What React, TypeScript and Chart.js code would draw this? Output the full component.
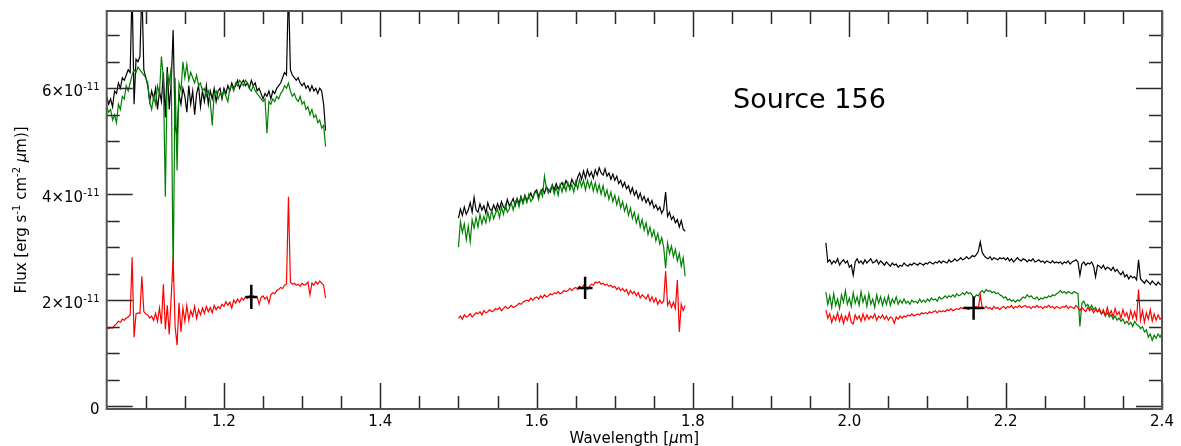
import React, { useEffect, useRef } from "react";
import { Chart, registerables } from "chart.js";

Chart.register(...registerables);

const W = 1181;
const H = 446;
const FONT = '"DejaVu Sans", "Noto Sans", sans-serif';

// Flux values are in units of 1e-11 erg s^-1 cm^-2 um^-1

// ---------- J band segment ----------
const wavelengthJ = [
  1.0500, 1.0525, 1.0550, 1.0575, 1.0600, 1.0625, 1.0650, 1.0675, 1.0700, 1.0725,
  1.0750, 1.0775, 1.0800, 1.0825, 1.0850, 1.0875, 1.0900, 1.0925, 1.0950, 1.0975,
  1.1000, 1.1025, 1.1050, 1.1075, 1.1100, 1.1125, 1.1150, 1.1175, 1.1200, 1.1225,
  1.1250, 1.1275, 1.1300, 1.1325, 1.1350, 1.1375, 1.1400, 1.1425, 1.1450, 1.1475,
  1.1500, 1.1525, 1.1550, 1.1575, 1.1600, 1.1625, 1.1650, 1.1675, 1.1700, 1.1725,
  1.1750, 1.1775, 1.1800, 1.1825, 1.1850, 1.1875, 1.1900, 1.1925, 1.1950, 1.1975,
  1.2000, 1.2025, 1.2050, 1.2075, 1.2100, 1.2125, 1.2150, 1.2175, 1.2200, 1.2225,
  1.2250, 1.2275, 1.2300, 1.2325, 1.2350, 1.2375, 1.2400, 1.2425, 1.2450, 1.2475,
  1.2500, 1.2525, 1.2550, 1.2575, 1.2600, 1.2625, 1.2650, 1.2675, 1.2700, 1.2725,
  1.2750, 1.2775, 1.2800, 1.2825, 1.2850, 1.2875, 1.2900, 1.2925, 1.2950, 1.2975,
  1.3000, 1.3025, 1.3050, 1.3075, 1.3100, 1.3125, 1.3150, 1.3175, 1.3200, 1.3225,
  1.3250, 1.3275, 1.3300,
];
const fluxBlackJ = [
  5.85, 5.70, 5.80, 5.65, 5.95, 5.90, 6.10, 6.00, 6.20, 6.15,
  6.25, 6.35, 6.30, 7.90, 5.70, 6.55, 6.50, 6.60, 7.90, 6.35,
  6.20, 6.05, 5.75, 5.95, 5.80, 6.00, 5.60, 5.95, 5.75, 6.30,
  5.45, 6.40, 5.60, 6.10, 7.10, 5.30, 5.10, 5.90, 5.70, 6.00,
  5.85, 5.55, 6.05, 5.70, 5.95, 5.50, 5.90, 6.05, 5.65, 5.95,
  5.75, 6.05, 5.70, 5.95, 5.80, 6.00, 5.75, 5.95, 6.00, 5.80,
  6.00, 5.90, 6.05, 5.95, 6.10, 6.00, 6.05, 6.15, 6.00, 6.10,
  6.15, 6.05, 6.10, 6.00, 6.15, 6.05, 6.10, 5.95, 6.00, 5.90,
  5.80, 5.90, 5.85, 5.95, 5.80, 5.95, 5.90, 6.00, 6.05, 6.10,
  6.20, 6.30, 6.25, 7.90, 6.35, 6.25, 6.20, 6.15, 6.20, 6.10,
  6.05, 6.10, 6.00, 6.05, 5.95, 6.05, 5.95, 6.00, 5.90, 6.00,
  5.95, 5.70, 5.20,
];
const fluxGreenJ = [
  5.65, 5.55, 5.60, 5.40, 5.50, 5.35, 5.70, 5.60, 5.85, 5.80,
  6.05, 5.95, 6.10, 6.25, 6.35, 6.30, 6.40, 6.35, 6.30, 6.25,
  6.20, 6.10, 5.75, 5.60, 5.85, 5.70, 6.05, 5.90, 6.60, 6.20,
  3.95, 6.30, 6.10, 6.40, 2.35, 6.20, 4.45, 6.10, 5.95, 6.50,
  6.20, 6.45, 6.15, 6.30, 6.20, 6.10, 6.25, 6.05, 6.10, 5.95,
  6.00, 5.85, 5.95, 5.75, 5.30, 5.90, 5.95, 5.80, 5.90, 5.85,
  5.95, 5.85, 5.75, 6.00, 6.05, 5.95, 6.10, 6.05, 6.15, 6.10,
  6.05, 6.15, 6.10, 6.00, 5.95, 6.05, 5.95, 5.90, 5.85, 5.80,
  5.75, 5.80, 5.15, 5.75, 5.70, 5.80, 5.75, 5.85, 5.80, 5.90,
  5.95, 6.05, 6.00, 6.10, 5.95, 5.85, 5.90, 5.80, 5.75, 5.85,
  5.70, 5.75, 5.60, 5.65, 5.50, 5.60, 5.45, 5.50, 5.35, 5.40,
  5.25, 5.30, 4.90,
];
const fluxRedJ = [
  1.47, 1.46, 1.48, 1.47, 1.52, 1.55, 1.60, 1.58, 1.64, 1.62,
  1.66, 1.68, 1.72, 2.81, 1.30, 1.74, 1.76, 1.75, 2.45, 1.78,
  1.74, 1.72, 1.66, 1.70, 1.62, 1.75, 1.60, 1.85, 1.55, 2.30,
  1.45, 1.90, 1.35, 2.05, 2.80, 1.50, 1.15, 1.95, 1.40, 1.85,
  1.60, 1.90, 1.62, 1.80, 1.70, 1.88, 1.65, 1.82, 1.72, 1.85,
  1.75, 1.88, 1.78, 1.86, 1.76, 1.90, 1.82, 1.88, 1.84, 1.92,
  1.88, 1.97, 1.90, 1.96, 1.85, 2.00, 1.94, 2.02, 1.96, 2.04,
  2.00, 2.06, 2.03, 2.08, 2.04, 2.08, 2.05, 2.06, 1.92, 2.05,
  2.08, 2.02, 2.06, 1.94, 2.10, 2.14, 2.12, 2.18, 2.20, 2.24,
  2.22, 2.28, 2.30, 3.95, 2.34, 2.30, 2.32, 2.28, 2.30, 2.26,
  2.32, 2.28, 2.30, 2.34, 2.10, 2.32, 2.28, 2.35, 2.30, 2.36,
  2.32, 2.28, 2.04,
];

// ---------- H band segment ----------
const wavelengthH = [
  1.5000, 1.5025, 1.5050, 1.5075, 1.5100, 1.5125, 1.5150, 1.5175, 1.5200, 1.5225,
  1.5250, 1.5275, 1.5300, 1.5325, 1.5350, 1.5375, 1.5400, 1.5425, 1.5450, 1.5475,
  1.5500, 1.5525, 1.5550, 1.5575, 1.5600, 1.5625, 1.5650, 1.5675, 1.5700, 1.5725,
  1.5750, 1.5775, 1.5800, 1.5825, 1.5850, 1.5875, 1.5900, 1.5925, 1.5950, 1.5975,
  1.6000, 1.6025, 1.6050, 1.6075, 1.6100, 1.6125, 1.6150, 1.6175, 1.6200, 1.6225,
  1.6250, 1.6275, 1.6300, 1.6325, 1.6350, 1.6375, 1.6400, 1.6425, 1.6450, 1.6475,
  1.6500, 1.6525, 1.6550, 1.6575, 1.6600, 1.6625, 1.6650, 1.6675, 1.6700, 1.6725,
  1.6750, 1.6775, 1.6800, 1.6825, 1.6850, 1.6875, 1.6900, 1.6925, 1.6950, 1.6975,
  1.7000, 1.7025, 1.7050, 1.7075, 1.7100, 1.7125, 1.7150, 1.7175, 1.7200, 1.7225,
  1.7250, 1.7275, 1.7300, 1.7325, 1.7350, 1.7375, 1.7400, 1.7425, 1.7450, 1.7475,
  1.7500, 1.7525, 1.7550, 1.7575, 1.7600, 1.7625, 1.7650, 1.7675, 1.7700, 1.7725,
  1.7750, 1.7775, 1.7800, 1.7825, 1.7850, 1.7875, 1.7900,
];
const fluxBlackH = [
  3.55, 3.72, 3.60, 3.76, 3.62, 3.70, 3.84, 3.66, 3.94, 3.70,
  3.66, 3.82, 3.70, 3.78, 3.64, 3.84, 3.72, 3.68, 3.80, 3.70,
  3.82, 3.72, 3.86, 3.76, 3.72, 3.90, 3.78, 3.84, 3.92, 3.78,
  3.92, 3.82, 3.96, 3.84, 3.98, 3.88, 3.94, 4.02, 3.92, 4.04,
  4.08, 3.96, 4.04, 4.10, 4.02, 4.14, 4.08, 4.04, 4.18, 4.08,
  4.20, 4.10, 4.16, 4.22, 4.12, 4.26, 4.18, 4.14, 4.28, 4.20,
  4.16, 4.32, 4.40, 4.28, 4.44, 4.30, 4.46, 4.34, 4.42, 4.30,
  4.46, 4.36, 4.50, 4.40, 4.36, 4.48, 4.34, 4.40, 4.28, 4.38,
  4.26, 4.34, 4.20, 4.26, 4.14, 4.22, 4.10, 4.16, 4.02, 4.12,
  3.98, 4.06, 3.92, 4.02, 3.88, 3.96, 3.84, 3.92, 3.80, 3.88,
  3.74, 3.80, 3.70, 3.76, 3.64, 3.72, 4.04, 3.58, 3.66, 3.52,
  3.58, 3.46, 3.52, 3.38, 3.50, 3.34, 3.30,
];
const fluxGreenH = [
  3.00, 3.48, 3.28, 3.44, 3.14, 3.40, 3.10, 3.52, 3.36, 3.56,
  3.38, 3.62, 3.44, 3.58, 3.46, 3.66, 3.50, 3.70, 3.54, 3.64,
  3.72, 3.56, 3.76, 3.62, 3.80, 3.66, 3.72, 3.84, 3.70, 3.86,
  3.90, 3.76, 3.94, 3.82, 3.96, 3.84, 4.00, 3.86, 3.92, 4.02,
  4.04, 3.90, 4.06, 3.96, 4.34, 4.12, 4.02, 4.10, 4.16, 4.00,
  4.14, 3.98, 4.18, 4.04, 4.20, 4.06, 4.22, 4.08, 4.18, 4.04,
  4.24, 4.10, 4.28, 4.14, 4.26, 4.08, 4.26, 4.12, 4.24, 4.06,
  4.22, 4.04, 4.18, 4.00, 4.16, 3.96, 4.08, 3.90, 4.04, 3.86,
  3.98, 3.80, 3.94, 3.74, 3.86, 3.68, 3.80, 3.60, 3.74, 3.54,
  3.66, 3.46, 3.60, 3.38, 3.52, 3.32, 3.46, 3.24, 3.38, 3.20,
  3.32, 3.12, 3.26, 3.06, 3.18, 3.00, 2.60, 3.08, 2.88, 3.02,
  2.82, 2.96, 2.74, 2.88, 2.64, 2.80, 2.45,
];
const fluxRedH = [
  1.66, 1.70, 1.64, 1.72, 1.68, 1.70, 1.74, 1.68, 1.72, 1.76,
  1.74, 1.78, 1.72, 1.80, 1.76, 1.78, 1.82, 1.78, 1.80, 1.84,
  1.82, 1.86, 1.80, 1.84, 1.88, 1.84, 1.86, 1.90, 1.86, 1.88,
  1.90, 1.94, 1.92, 1.96, 1.98, 2.00, 1.98, 2.04, 2.00, 2.04,
  2.06, 2.02, 2.08, 2.04, 2.10, 2.06, 2.08, 2.12, 2.10, 2.14,
  2.12, 2.16, 2.12, 2.14, 2.18, 2.16, 2.18, 2.22, 2.18, 2.22,
  2.24, 2.20, 2.26, 2.22, 2.28, 2.24, 2.20, 2.26, 2.30, 2.28,
  2.34, 2.32, 2.35, 2.30, 2.32, 2.28, 2.30, 2.26, 2.28, 2.24,
  2.26, 2.20, 2.24, 2.18, 2.22, 2.16, 2.20, 2.10, 2.18, 2.12,
  2.16, 2.08, 2.14, 2.04, 2.10, 2.06, 2.02, 2.10, 1.98, 2.06,
  1.96, 2.04, 1.92, 2.00, 1.94, 1.98, 2.55, 1.90, 1.98, 1.86,
  1.96, 1.84, 2.38, 1.40, 1.92, 1.80, 1.90,
];

// ---------- K band segment ----------
const wavelengthK = [
  1.9700, 1.9725, 1.9750, 1.9775, 1.9800, 1.9825, 1.9850, 1.9875, 1.9900, 1.9925,
  1.9950, 1.9975, 2.0000, 2.0025, 2.0050, 2.0075, 2.0100, 2.0125, 2.0150, 2.0175,
  2.0200, 2.0225, 2.0250, 2.0275, 2.0300, 2.0325, 2.0350, 2.0375, 2.0400, 2.0425,
  2.0450, 2.0475, 2.0500, 2.0525, 2.0550, 2.0575, 2.0600, 2.0625, 2.0650, 2.0675,
  2.0700, 2.0725, 2.0750, 2.0775, 2.0800, 2.0825, 2.0850, 2.0875, 2.0900, 2.0925,
  2.0950, 2.0975, 2.1000, 2.1025, 2.1050, 2.1075, 2.1100, 2.1125, 2.1150, 2.1175,
  2.1200, 2.1225, 2.1250, 2.1275, 2.1300, 2.1325, 2.1350, 2.1375, 2.1400, 2.1425,
  2.1450, 2.1475, 2.1500, 2.1525, 2.1550, 2.1575, 2.1600, 2.1625, 2.1650, 2.1675,
  2.1700, 2.1725, 2.1750, 2.1775, 2.1800, 2.1825, 2.1850, 2.1875, 2.1900, 2.1925,
  2.1950, 2.1975, 2.2000, 2.2025, 2.2050, 2.2075, 2.2100, 2.2125, 2.2150, 2.2175,
  2.2200, 2.2225, 2.2250, 2.2275, 2.2300, 2.2325, 2.2350, 2.2375, 2.2400, 2.2425,
  2.2450, 2.2475, 2.2500, 2.2525, 2.2550, 2.2575, 2.2600, 2.2625, 2.2650, 2.2675,
  2.2700, 2.2725, 2.2750, 2.2775, 2.2800, 2.2825, 2.2850, 2.2875, 2.2900, 2.2925,
  2.2950, 2.2975, 2.3000, 2.3025, 2.3050, 2.3075, 2.3100, 2.3125, 2.3150, 2.3175,
  2.3200, 2.3225, 2.3250, 2.3275, 2.3300, 2.3325, 2.3350, 2.3375, 2.3400, 2.3425,
  2.3450, 2.3475, 2.3500, 2.3525, 2.3550, 2.3575, 2.3600, 2.3625, 2.3650, 2.3675,
  2.3700, 2.3725, 2.3750, 2.3775, 2.3800, 2.3825, 2.3850, 2.3875, 2.3900, 2.3925,
  2.3950, 2.3975, 2.4000,
];
const fluxBlackK = [
  3.08, 2.72, 2.76, 2.68, 2.74, 2.70, 2.78, 2.66, 2.72, 2.76,
  2.70, 2.74, 2.62, 2.66, 2.47, 2.72, 2.78, 2.70, 2.74, 2.68,
  2.76, 2.70, 2.74, 2.78, 2.70, 2.72, 2.76, 2.68, 2.74, 2.70,
  2.66, 2.72, 2.68, 2.64, 2.70, 2.66, 2.68, 2.62, 2.66, 2.64,
  2.70, 2.66, 2.64, 2.68, 2.66, 2.70, 2.68, 2.66, 2.70, 2.68,
  2.66, 2.70, 2.68, 2.72, 2.70, 2.68, 2.72, 2.70, 2.74, 2.70,
  2.74, 2.72, 2.70, 2.76, 2.72, 2.74, 2.78, 2.74, 2.76, 2.80,
  2.76, 2.78, 2.82, 2.78, 2.80, 2.84, 2.82, 2.86, 2.92, 3.10,
  2.90, 2.84, 2.80, 2.78, 2.82, 2.76, 2.80, 2.78, 2.76, 2.80,
  2.78, 2.80, 2.76, 2.80, 2.74, 2.78, 2.72, 2.76, 2.80, 2.76,
  2.74, 2.78, 2.76, 2.72, 2.76, 2.74, 2.78, 2.72, 2.74, 2.76,
  2.72, 2.74, 2.70, 2.74, 2.72, 2.70, 2.74, 2.70, 2.72, 2.70,
  2.72, 2.68, 2.72, 2.70, 2.74, 2.68, 2.72, 2.74, 2.76, 2.72,
  2.47, 2.68, 2.72, 2.66, 2.70, 2.68, 2.72, 2.64, 2.44, 2.66,
  2.64, 2.60, 2.66, 2.58, 2.62, 2.60, 2.56, 2.62, 2.54, 2.58,
  2.52, 2.48, 2.54, 2.44, 2.48, 2.40, 2.46, 2.42, 2.44, 2.38,
  2.76, 2.40, 2.36, 2.32, 2.38, 2.34, 2.30, 2.36, 2.32, 2.28,
  2.34, 2.30, 2.28,
];
const fluxGreenK = [
  2.15, 1.92, 2.08, 1.86, 2.12, 1.90, 2.02, 1.84, 2.10, 1.96,
  2.18, 1.92, 2.04, 1.88, 2.14, 1.94, 2.06, 1.90, 2.16, 1.96,
  2.08, 1.88, 2.12, 1.92, 2.02, 1.86, 2.10, 1.94, 2.06, 1.90,
  2.04, 1.92, 2.08, 1.90, 2.02, 1.94, 2.06, 1.92, 2.00, 1.94,
  2.02, 1.94, 1.98, 1.92, 2.00, 1.96, 1.98, 1.94, 2.02, 1.96,
  2.00, 1.96, 2.02, 1.98, 2.04, 2.00, 2.02, 1.98, 2.06, 2.02,
  2.04, 2.08, 2.04, 2.08, 2.06, 2.10, 2.06, 2.12, 2.08, 2.10,
  2.14, 2.10, 2.16, 2.12, 2.14, 2.08, 2.04, 2.10, 2.08, 2.14,
  2.18, 2.14, 2.20, 2.16, 2.18, 2.14, 2.16, 2.12, 2.14, 2.10,
  2.08, 2.04, 2.06, 2.00, 2.02, 1.98, 2.00, 1.96, 2.00, 1.98,
  2.02, 2.06, 2.04, 2.10, 2.06, 2.08, 2.04, 2.02, 2.06, 2.00,
  2.04, 2.02, 2.06, 2.04, 2.08, 2.06, 2.10, 2.08, 2.12, 2.14,
  2.18, 2.14, 2.16, 2.12, 2.16, 2.14, 2.12, 2.16, 2.14, 2.12,
  1.50, 1.94, 1.98, 1.88, 1.92, 1.84, 1.90, 1.82, 1.86, 1.78,
  1.80, 1.74, 1.78, 1.70, 1.76, 1.68, 1.72, 1.64, 1.70, 1.62,
  1.66, 1.60, 1.64, 1.56, 1.60, 1.54, 1.58, 1.50, 1.60, 1.54,
  1.52, 1.46, 1.50, 1.40, 1.44, 1.30, 1.36, 1.24, 1.34, 1.28,
  1.36, 1.30, 1.38,
];
const fluxRedK = [
  1.81, 1.66, 1.74, 1.58, 1.70, 1.62, 1.76, 1.60, 1.72, 1.56,
  1.70, 1.62, 1.76, 1.58, 1.55, 1.72, 1.64, 1.70, 1.60, 1.74,
  1.62, 1.72, 1.64, 1.70, 1.66, 1.74, 1.62, 1.70, 1.66, 1.72,
  1.64, 1.70, 1.62, 1.68, 1.66, 1.56, 1.68, 1.64, 1.70, 1.66,
  1.70, 1.68, 1.72, 1.70, 1.74, 1.70, 1.72, 1.74, 1.72, 1.76,
  1.74, 1.76, 1.74, 1.78, 1.76, 1.78, 1.80, 1.76, 1.80, 1.78,
  1.80, 1.78, 1.82, 1.80, 1.84, 1.80, 1.82, 1.84, 1.82, 1.86,
  1.84, 1.86, 1.84, 1.82, 1.86, 1.84, 1.86, 1.88, 1.84, 2.10,
  1.86, 1.84, 1.88, 1.84, 1.86, 1.82, 1.88, 1.84, 1.86, 1.82,
  1.86, 1.88, 1.84, 1.88, 1.86, 1.90, 1.84, 1.88, 1.86, 1.90,
  1.86, 1.88, 1.90, 1.86, 1.88, 1.84, 1.88, 1.86, 1.90, 1.86,
  1.88, 1.84, 1.88, 1.86, 1.90, 1.86, 1.88, 1.84, 1.88, 1.86,
  1.84, 1.88, 1.86, 1.90, 1.84, 1.88, 1.86, 1.84, 1.90, 1.86,
  1.80, 1.86, 1.82, 1.78, 1.86, 1.80, 1.84, 1.76, 1.82, 1.78,
  1.84, 1.74, 1.82, 1.70, 1.86, 1.72, 1.80, 1.68, 1.84, 1.72,
  1.78, 1.66, 1.82, 1.70, 1.76, 1.62, 1.80, 1.66, 1.78, 1.64,
  2.20, 1.62, 1.80, 1.58, 1.76, 1.64, 1.82, 1.60, 1.74, 1.62,
  1.72, 1.64, 1.68,
];

// ---------- Photometric points (crosses) ----------
const photWavelength = [1.235, 1.662, 2.159];
const photFlux = [2.06, 2.23, 1.85];
const photFluxErr = [0.23, 0.21, 0.22];
const photWavelengthErr = [0.0075, 0.0095, 0.013];

// ---------- Axes ----------
const xMin = 1.05;
const xMax = 2.4;
const yMin = -0.057;
const yMax = 7.46;
const xMajorTicks = [1.2, 1.4, 1.6, 1.8, 2.0, 2.2, 2.4];
const xTickLabels = ["1.2", "1.4", "1.6", "1.8", "2.0", "2.2", "2.4"];
const yMajorTicks = [0, 2, 4, 6];
const yTickMantissa = ["0", "2×10", "4×10", "6×10"];
const yTickExponent = ["", "-11", "-11", "-11"];
const annotationText = "Source 156";

type Run = { t: string; size: number; italic?: boolean; dy?: number };

function runFont(r: Run) {
  return `${r.italic ? "italic " : ""}${r.size}px ${FONT}`;
}
function measureRuns(ctx: CanvasRenderingContext2D, runs: Run[]) {
  let w = 0;
  for (const r of runs) {
    ctx.font = runFont(r);
    w += ctx.measureText(r.t).width;
  }
  return w;
}
function drawRuns(ctx: CanvasRenderingContext2D, runs: Run[], x: number, y: number) {
  let cx = x;
  for (const r of runs) {
    ctx.font = runFont(r);
    ctx.fillText(r.t, cx, y + (r.dy || 0));
    cx += ctx.measureText(r.t).width;
  }
}

const framePlugin = {
  id: "framePlugin",
  afterDraw(chart: any) {
    const { ctx, chartArea: a, scales } = chart;
    const xs = scales.x;
    const ys = scales.y;
    ctx.save();

    // ticks (inward, all four sides)
    ctx.strokeStyle = "#2a2a2a";
    ctx.lineWidth = 1.5;
    ctx.beginPath();
    for (let k = 22; k <= 48; k++) {
      const v = k * 0.05;
      if (v < xMin - 1e-9 || v > xMax + 1e-9) continue;
      const len = k % 4 === 0 ? 26 : 13;
      const px = Math.round(xs.getPixelForValue(v)) + 0.5;
      ctx.moveTo(px, a.bottom);
      ctx.lineTo(px, a.bottom - len);
      ctx.moveTo(px, a.top);
      ctx.lineTo(px, a.top + len);
    }
    for (let k = 0; k <= 14; k++) {
      const v = k * 0.5;
      const len = k % 4 === 0 ? 26 : 13;
      const py = Math.round(ys.getPixelForValue(v)) + 0.5;
      ctx.moveTo(a.left, py);
      ctx.lineTo(a.left + len, py);
      ctx.moveTo(a.right, py);
      ctx.lineTo(a.right - len, py);
    }
    ctx.stroke();

    // frame
    ctx.strokeStyle = "#555555";
    ctx.lineWidth = 2;
    ctx.strokeRect(a.left, a.top, a.right - a.left, a.bottom - a.top);

    ctx.fillStyle = "#000000";
    ctx.textBaseline = "alphabetic";
    ctx.textAlign = "left";

    // x tick labels
    ctx.font = `15px ${FONT}`;
    xMajorTicks.forEach((v, i) => {
      const px = xs.getPixelForValue(v);
      const w = ctx.measureText(xTickLabels[i]).width;
      ctx.fillText(xTickLabels[i], px - w / 2, 426);
    });

    // y tick labels
    yMajorTicks.forEach((v, i) => {
      const py = ys.getPixelForValue(v);
      const runs: Run[] = [{ t: yTickMantissa[i], size: 15 }];
      if (yTickExponent[i]) runs.push({ t: yTickExponent[i], size: 10, dy: -6 });
      const w = measureRuns(ctx, runs);
      drawRuns(ctx, runs, 99.5 - w, py + 8);
    });

    // x title
    const xt: Run[] = [
      { t: "Wavelength [", size: 15 },
      { t: "μ", size: 15, italic: true },
      { t: "m]", size: 15 },
    ];
    const xw = measureRuns(ctx, xt);
    drawRuns(ctx, xt, (a.left + a.right) / 2 - xw / 2, 443);

    // y title (rotated)
    const yt: Run[] = [
      { t: "Flux [erg s", size: 15 },
      { t: "-1", size: 10, dy: -6 },
      { t: " cm", size: 15 },
      { t: "-2", size: 10, dy: -6 },
      { t: " ", size: 15 },
      { t: "μ", size: 15, italic: true },
      { t: "m)]", size: 15 },
    ];
    const yw = measureRuns(ctx, yt);
    ctx.save();
    ctx.translate(26, (a.top + a.bottom) / 2);
    ctx.rotate(-Math.PI / 2);
    drawRuns(ctx, yt, -yw / 2, 0);
    ctx.restore();

    // annotation
    ctx.font = `27px ${FONT}`;
    ctx.fillText(annotationText, 733, 108);

    ctx.restore();
  },
};

function toPoints(wl: number[], fl: number[]) {
  return wl.map((x, i) => ({ x, y: fl[i] }));
}

export default function App() {
  const ref = useRef<HTMLCanvasElement>(null);

  useEffect(() => {
    const canvas = ref.current;
    if (!canvas) return;

    const series = [
      { color: "#000000", order: 3, segs: [[wavelengthJ, fluxBlackJ], [wavelengthH, fluxBlackH], [wavelengthK, fluxBlackK]] },
      { color: "#008000", order: 2, segs: [[wavelengthJ, fluxGreenJ], [wavelengthH, fluxGreenH], [wavelengthK, fluxGreenK]] },
      { color: "#ff0000", order: 1, segs: [[wavelengthJ, fluxRedJ], [wavelengthH, fluxRedH], [wavelengthK, fluxRedK]] },
    ];

    const datasets: any[] = [];
    series.forEach((s) => {
      s.segs.forEach(([wl, fl]) => {
        datasets.push({
          data: toPoints(wl as number[], fl as number[]),
          showLine: true,
          borderColor: s.color,
          backgroundColor: s.color,
          borderWidth: 1.2,
          pointRadius: 0,
          pointHoverRadius: 0,
          tension: 0,
          fill: false,
          order: s.order,
        });
      });
    });

    photWavelength.forEach((x, i) => {
      const y = photFlux[i];
      datasets.push({
        data: [
          { x, y: y - photFluxErr[i] },
          { x, y: y + photFluxErr[i] },
        ],
        showLine: true,
        borderColor: "#000000",
        borderWidth: 2.5,
        pointRadius: 0,
        order: 0,
      });
      datasets.push({
        data: [
          { x: x - photWavelengthErr[i], y },
          { x: x + photWavelengthErr[i], y },
        ],
        showLine: true,
        borderColor: "#000000",
        borderWidth: 2.5,
        pointRadius: 0,
        order: 0,
      });
    });

    const chart = new Chart(canvas, {
      type: "scatter",
      data: { datasets },
      options: {
        responsive: false,
        animation: false,
        devicePixelRatio: 1,
        layout: { padding: { left: 106.7, right: 19, top: 11, bottom: 37 } },
        plugins: {
          legend: { display: false },
          tooltip: { enabled: false },
        },
        events: [],
        scales: {
          x: { type: "linear", min: xMin, max: xMax, display: false },
          y: { type: "linear", min: yMin, max: yMax, display: false },
        },
      },
      plugins: [framePlugin],
    } as any);

    return () => chart.destroy();
  }, []);

  return (
    <div style={{ position: "fixed", left: 0, top: 0, width: W, height: H, background: "#ffffff" }}>
      <canvas ref={ref} width={W} height={H} style={{ width: W, height: H, display: "block" }} />
    </div>
  );
}
